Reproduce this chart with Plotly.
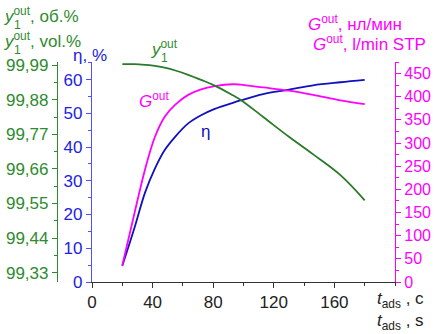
import plotly.graph_objects as go

# Data
t_ads = [20, 28, 35, 41.5, 48, 55, 63.5, 72, 81, 93, 98, 113, 130, 146, 164, 180]
y1_out = [99.993, 99.993, 99.991, 99.988, 99.982, 99.973, 99.959, 99.943, 99.925, 99.894,
          99.880, 99.825, 99.762, 99.706, 99.640, 99.56]
G_out = [36, 148, 243, 313, 357, 383, 404, 416, 423, 427, 426, 420, 413, 404, 392, 384]
eta = [4.8, 16.0, 26.5, 33.6, 39.1, 43.1, 47.0, 49.4, 51.3, 53.1, 53.8, 55.7, 57.0, 58.3, 59.2, 59.9]

x_ticks = [0, 40, 80, 120, 160]
y1_ticks = [99.33, 99.44, 99.55, 99.66, 99.77, 99.88, 99.99]
y1_ticktext = [f"{v:.2f}".replace(".", ",") for v in y1_ticks]

GREEN_T = "#2e8b2e"
GREEN_L = "#2a7a2a"
BLUE_T = "#2222dd"
BLUE_L = "#1010c0"
MAG = "#ff00ff"
FONT = "Liberation Sans, Arial, sans-serif"

fig = go.Figure()
fig.add_trace(go.Scatter(x=t_ads, y=eta, mode="lines", line=dict(color=BLUE_L, width=1.8, shape="spline"),
                         yaxis="y", showlegend=False))
fig.add_trace(go.Scatter(x=t_ads, y=G_out, mode="lines", line=dict(color=MAG, width=1.8, shape="spline"),
                         yaxis="y2", showlegend=False))
fig.add_trace(go.Scatter(x=t_ads, y=y1_out, mode="lines", line=dict(color=GREEN_L, width=1.8, shape="spline"),
                         yaxis="y3", showlegend=False))

W, H = 436, 334
ml, mr, mt, mb = 57, 41, 62, 52
pw = W - ml - mr
x0 = (92 - ml) / pw

fig.update_layout(
    width=W, height=H,
    margin=dict(l=ml, r=mr, t=mt, b=mb, autoexpand=False),
    paper_bgcolor="white", plot_bgcolor="white",
    font=dict(family=FONT, size=17),
    xaxis=dict(domain=[x0, 1], range=[0, 200], tickvals=x_ticks, ticks="outside", ticklen=5,
               showline=True, linecolor="#333333", linewidth=1, tickcolor="#333333",
               showgrid=False, zeroline=False, tickfont=dict(color="#222222", size=17),
               minor=dict(dtick=20, tick0=0, ticks="outside", ticklen=3, tickcolor="#333333")),
    yaxis=dict(range=[0, 65.2], dtick=10, tick0=0, ticks="outside", ticklen=5,
               showline=True, linecolor="#5050ff", linewidth=1.2, tickcolor="#5050ff",
               showgrid=False, zeroline=False, tickfont=dict(color=BLUE_T, size=17),
               minor=dict(dtick=5, tick0=0, ticks="outside", ticklen=3, tickcolor="#5050ff")),
    yaxis2=dict(range=[0, 475], dtick=50, tick0=0, overlaying="y", side="right", anchor="x",
                ticks="outside", ticklen=5, showline=True, linecolor=MAG, linewidth=1.2, tickcolor=MAG,
                showgrid=False, zeroline=False, tickfont=dict(color=MAG, size=16),
                minor=dict(dtick=25, tick0=0, ticks="outside", ticklen=3, tickcolor=MAG)),
    yaxis3=dict(range=[99.3, 100.0], tickvals=y1_ticks, ticktext=y1_ticktext, overlaying="y",
                side="left", anchor="free", position=0, ticks="outside", ticklen=5,
                showline=True, linecolor=GREEN_T, linewidth=1.2, tickcolor=GREEN_T,
                showgrid=False, zeroline=False, tickfont=dict(color=GREEN_T, size=17),
                minor=dict(dtick=0.055, tick0=99.275, ticks="outside", ticklen=3, tickcolor=GREEN_T)),
)

def ann(text, x, y, color, xanchor="left", size=17):
    fig.add_annotation(text=text, x=x, y=y, xref="paper", yref="paper", xanchor=xanchor,
                       yanchor="middle", showarrow=False, font=dict(color=color, size=size, family=FONT))

def px(xp):
    return (xp - ml) / pw

def py(yp):
    return 1 - (yp - mt) / (H - mt - mb)

# Left axis titles
ann("<i>y</i><sup>out</sup>, об.%", px(2), py(15), GREEN_T)
ann("1", px(12), py(25), GREEN_T, size=12)
ann("<i>y</i><sup>out</sup>, vol.%", px(2), py(40), GREEN_T)
ann("1", px(12), py(50), GREEN_T, size=12)
ann("η, %", px(71), py(55), BLUE_T)

# Right axis titles
ann("<i>G</i><sup>out</sup>, нл/мин", px(404), py(23), MAG, xanchor="right")
ann("<i>G</i><sup>out</sup>, l/min STP", px(428), py(43), MAG, xanchor="right")

# Bottom right x title
ann("<i>t</i><sub>ads</sub> , c", px(426), py(300), "#222222", xanchor="right")
ann("<i>t</i><sub>ads</sub> , s", px(426), py(322), "#222222", xanchor="right")

# Curve labels
ann("<i>y</i><sup>out</sup>", px(149), py(48), GREEN_T)
ann("1", px(159), py(58), GREEN_T, size=12)
ann("<i>G</i><sup>out</sup>", px(137), py(100), MAG)
ann("η", px(199), py(131), BLUE_L)

fig.write_html("out.html", config={"displayModeBar": False},
               post_script="document.body.style.margin='0';document.body.style.overflow='hidden';")
